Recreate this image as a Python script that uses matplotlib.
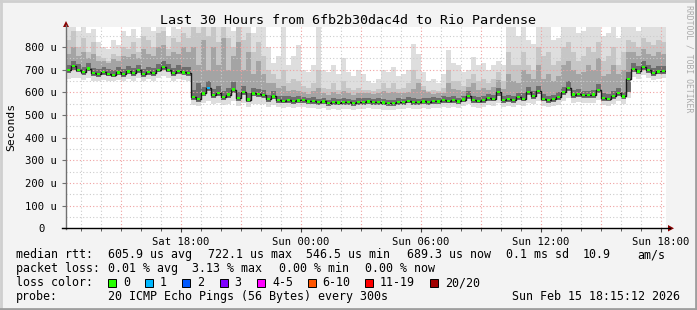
import numpy as np
import matplotlib
matplotlib.use("Agg")
import matplotlib.pyplot as plt
from matplotlib.lines import Line2D
from matplotlib.patches import Rectangle, Polygon
from matplotlib.transforms import ScaledTranslation

plt.rcParams['font.family'] = ['DejaVu Sans Mono']

# one value every 15 minutes, first step starts Sat 12:15 (x = hours since then)
stepHours = 0.25

# median rtt (microseconds)
medianRtt = [697, 715, 700, 690, 705, 685, 680, 690, 682, 678,
             688, 680, 692, 685, 698, 680, 690, 685, 700, 712,
             700, 685, 695, 688, 685, 580, 570, 595, 618, 588,
             596, 580, 590, 612, 575, 600, 568, 595, 592, 588,
             570, 582, 566, 563, 565, 562, 564, 565, 560, 562,
             556, 560, 552, 558, 555, 558, 556, 553, 558, 558,
             560, 556, 558, 555, 552, 552, 557, 556, 563, 558,
             556, 560, 558, 562, 560, 565, 563, 566, 560, 568,
             585, 566, 563, 567, 575, 572, 600, 567, 570, 566,
             580, 572, 600, 585, 605, 572, 566, 570, 578, 600,
             620, 590, 594, 588, 587, 590, 610, 575, 572, 585,
             598, 582, 660, 702, 692, 712, 698, 685, 692, 695]

# lost pings out of 20 per step
lossCount = [0, 0, 0, 0, 0, 0, 0, 0, 0, 0,
             0, 0, 0, 0, 0, 0, 0, 0, 0, 0,
             0, 0, 0, 0, 0, 0, 0, 0, 1, 0,
             0, 0, 0, 0, 0, 0, 0, 0, 0, 0,
             0, 0, 0, 0, 0, 0, 0, 0, 0, 0,
             0, 0, 0, 0, 0, 0, 0, 0, 0, 0,
             0, 0, 0, 0, 0, 0, 0, 0, 0, 0,
             0, 0, 0, 0, 0, 0, 0, 0, 0, 0,
             0, 0, 0, 0, 0, 0, 0, 0, 0, 0,
             0, 0, 0, 0, 0, 0, 0, 0, 0, 0,
             0, 0, 0, 0, 0, 0, 0, 0, 0, 0,
             0, 0, 0, 0, 0, 0, 0, 0, 0, 0]

# smoke: slowest ping
pingMax = [887, 887, 870, 887, 860, 880, 820, 800, 790, 830,
           810, 870, 850, 880, 840, 887, 887, 870, 887, 887,
           850, 887, 880, 887, 887, 887, 887, 887, 887, 887,
           887, 887, 887, 870, 887, 887, 887, 860, 887, 887,
           800, 730, 760, 887, 720, 760, 810, 700, 690, 720,
           887, 700, 690, 720, 680, 750, 690, 670, 700, 680,
           650, 640, 660, 700, 690, 710, 670, 680, 700, 815,
           770, 690, 650, 660, 640, 680, 785, 730, 720, 690,
           700, 755, 720, 730, 700, 720, 740, 720, 887, 887,
           850, 887, 830, 815, 887, 887, 887, 830, 840, 887,
           887, 887, 860, 870, 887, 887, 887, 850, 860, 887,
           840, 887, 887, 887, 870, 887, 887, 887, 887, 887]

# smoke: upper edge of the light-middle grey
pingHigh = [830, 870, 800, 840, 780, 820, 760, 750, 740, 770,
            760, 800, 790, 820, 780, 850, 830, 800, 860, 870,
            790, 840, 820, 860, 840, 887, 860, 887, 850, 887,
            820, 887, 840, 800, 887, 830, 860, 780, 820, 760,
            700, 680, 660, 700, 640, 660, 650, 630, 620, 640,
            700, 620, 615, 640, 610, 650, 620, 610, 620, 610,
            610, 605, 615, 640, 620, 640, 615, 620, 640, 700,
            660, 630, 605, 610, 605, 620, 700, 650, 650, 630,
            660, 680, 650, 660, 640, 660, 690, 650, 780, 720,
            720, 780, 720, 700, 800, 760, 780, 720, 740, 800,
            820, 780, 740, 760, 800, 780, 820, 740, 760, 800,
            720, 780, 830, 820, 800, 840, 820, 810, 830, 820]

# smoke: upper edge of the darker grey
pingMid = [770, 800, 760, 780, 750, 770, 740, 740, 730, 745,
           740, 760, 755, 770, 750, 790, 770, 760, 800, 810,
           760, 780, 770, 800, 780, 800, 720, 830, 700, 800,
           720, 840, 700, 760, 820, 700, 780, 680, 740, 680,
           640, 640, 620, 630, 605, 610, 605, 600, 592, 605,
           620, 598, 590, 600, 592, 605, 596, 590, 598, 596,
           598, 594, 598, 605, 598, 600, 598, 595, 600, 615,
           640, 610, 600, 592, 598, 595, 640, 615, 612, 605,
           625, 640, 612, 618, 610, 625, 655, 615, 680, 650,
           640, 700, 680, 660, 720, 660, 680, 650, 670, 720,
           740, 700, 680, 690, 720, 700, 750, 670, 680, 720,
           680, 700, 780, 780, 760, 790, 770, 760, 780, 770]

# smoke: dark core around the median
pingDarkTop = [720, 738, 725, 712, 728, 708, 702, 714, 705, 700,
               712, 703, 718, 708, 722, 704, 714, 708, 725, 738,
               724, 708, 720, 712, 712, 610, 640, 625, 650, 615,
               630, 605, 620, 645, 600, 630, 595, 620, 615, 610,
               590, 605, 585, 582, 584, 580, 582, 580, 575, 578,
               572, 576, 568, 574, 570, 574, 571, 568, 574, 573,
               576, 571, 574, 570, 567, 568, 573, 572, 580, 574,
               571, 576, 574, 578, 576, 582, 580, 582, 576, 585,
               605, 582, 579, 584, 592, 588, 618, 584, 588, 582,
               598, 595, 625, 608, 628, 592, 585, 590, 600, 625,
               648, 612, 615, 608, 606, 610, 635, 596, 592, 606,
               620, 602, 690, 728, 716, 738, 722, 708, 716, 718]

pingDarkBottom = [684, 700, 688, 678, 692, 672, 668, 678, 670, 666,
                  676, 668, 680, 673, 686, 668, 678, 673, 688, 700,
                  688, 673, 683, 676, 672, 565, 558, 582, 604, 575,
                  583, 567, 577, 598, 562, 587, 556, 582, 579, 575,
                  558, 570, 554, 551, 553, 550, 552, 553, 548, 550,
                  544, 548, 540, 546, 543, 546, 544, 541, 546, 546,
                  548, 544, 546, 543, 540, 540, 545, 544, 551, 546,
                  544, 548, 546, 550, 548, 553, 551, 554, 548, 556,
                  572, 554, 551, 555, 562, 560, 586, 555, 558, 554,
                  567, 560, 587, 572, 592, 560, 554, 558, 566, 587,
                  606, 577, 581, 575, 574, 577, 596, 562, 560, 572,
                  585, 570, 600, 688, 680, 698, 685, 672, 680, 682]

# smoke: fastest ping
pingMin = [660, 665, 662, 655, 665, 652, 650, 655, 650, 648,
           655, 650, 658, 652, 662, 650, 658, 652, 665, 670,
           662, 652, 660, 655, 652, 545, 540, 552, 560, 550,
           555, 545, 550, 560, 540, 555, 535, 550, 550, 548,
           535, 542, 535, 532, 535, 532, 535, 535, 530, 532,
           525, 530, 520, 528, 524, 528, 525, 522, 527, 528,
           530, 525, 528, 524, 520, 520, 526, 525, 532, 528,
           525, 530, 528, 532, 530, 535, 533, 536, 530, 538,
           548, 536, 533, 537, 542, 540, 555, 537, 540, 536,
           545, 540, 555, 548, 560, 540, 535, 538, 545, 560,
           575, 555, 558, 552, 552, 555, 568, 542, 540, 550,
           560, 548, 575, 668, 660, 675, 665, 655, 660, 662]

yTicks = [0, 100, 200, 300, 400, 500, 600, 700, 800]
yTickLabels = ['0', '100 u', '200 u', '300 u', '400 u', '500 u', '600 u', '700 u', '800 u']
xTicks = [5.75, 11.75, 17.75, 23.75, 29.75]
xTickLabels = ['Sat 18:00', 'Sun 00:00', 'Sun 06:00', 'Sun 12:00', 'Sun 18:00']

lossNames = ['0', '1', '2', '3', '4-5', '6-10', '11-19', '20/20']
lossUpper = [0, 1, 2, 3, 5, 10, 19, 20]
lossColors = ['#26ff00', '#00b8ff', '#0059ff', '#7e00ff', '#ff00ff', '#ff5500', '#ff0000', '#a10000']

W, H = 697, 310

def px(x, y):
   # pixel position (origin top left) -> figure fraction
   return x / W, 1 - y / H

fig = plt.figure(figsize=(W / 100, H / 100), dpi=100, facecolor='#f3f3f3')

plotLeft, plotRight, plotTop, plotBottom = 66, 666, 27.3, 228.3
ax = fig.add_axes([plotLeft / W, 1 - plotBottom / H, (plotRight - plotLeft) / W, (plotBottom - plotTop) / H])
ax.set_facecolor('white')

t = np.arange(len(medianRtt)) * stepHours
tEdge = np.append(t, t[-1] + stepHours)

def edgeVals(v):
   return np.append(v, v[-1])

# smoke layers, lighter outside, darker towards the median
ax.fill_between(tEdge, edgeVals(pingMin), edgeVals(pingMax), step='post', color='#dedede', lw=0, zorder=1)
ax.fill_between(tEdge, edgeVals(pingDarkBottom), edgeVals(pingHigh), step='post', color='#c6c6c6', lw=0, zorder=1.1)
ax.fill_between(tEdge, edgeVals(pingDarkBottom), edgeVals(pingMid), step='post', color='#a4a4a4', lw=0, zorder=1.2)
ax.fill_between(tEdge, edgeVals(pingDarkBottom), edgeVals(pingDarkTop), step='post', color='#6e6e6e', lw=0, zorder=1.3)

# grid on top of the smoke
for h in np.arange(0.75, 30, 1.0):
   isMajor = abs(((h - 2.75) / 3) - round((h - 2.75) / 3)) < 1e-6
   ax.axvline(h, color='#f0a0a0' if isMajor else '#cccccc', lw=0.8, ls=(0, (1, 2)), zorder=2)
for v in range(50, 900, 50):
   ax.axhline(v, color='#f0a0a0' if v % 100 == 0 else '#cccccc', lw=0.8, ls=(0, (1, 2)), zorder=2)

# median line
ax.step(tEdge, edgeVals(medianRtt), where='post', color='#1a1a1a', lw=1.0, zorder=3)
medColors = []
for l in lossCount:
   for k, up in enumerate(lossUpper):
      if l <= up:
         medColors.append(lossColors[k])
         break
ax.bar(t + 0.03, 10, bottom=np.array(medianRtt) - 5, width=stepHours - 0.08, align='edge',
       color=medColors, lw=0, zorder=4)

ax.set_xlim(0, 30)
ax.set_ylim(0, 887)
for s in ax.spines.values():
   s.set_visible(False)

ax.set_yticks(yTicks)
ax.set_yticklabels(yTickLabels, fontsize=7.6)
ax.set_xticks(xTicks)
ax.set_xticklabels(xTickLabels, fontsize=7.6)
ax.set_xticks(np.arange(0.75, 30, 1.0), minor=True)
ax.tick_params(axis='y', length=3, width=0.8, pad=3.5, color='#707070')
ax.tick_params(axis='x', length=3, width=0.8, pad=3.5, color='#404040')
ax.tick_params(axis='x', which='minor', length=2, width=0.6, color='#404040')
# the "0" label sits further left, like rrdtool prints it
zeroLab = ax.get_yticklabels()[0]
zeroLab.set_transform(zeroLab.get_transform() + ScaledTranslation(-12.5 / 100, 0, fig.dpi_scale_trans))

# axis lines with arrows
fig.add_artist(Line2D([px(66, 0)[0]] * 2, [px(0, 229)[1], px(0, 25)[1]], color='#707070', lw=1))
fig.add_artist(Line2D([px(62, 0)[0], px(670, 0)[0]], [px(0, 228.3)[1]] * 2, color='black', lw=1))
fig.add_artist(Polygon([px(63, 27), px(69, 27), px(66, 21)], closed=True, color='#8b0000', lw=0))
fig.add_artist(Polygon([px(668, 225), px(668, 231.5), px(674, 228.3)], closed=True, color='#8b0000', lw=0))

# frame
fig.add_artist(Line2D([0, 1], [1 - 1 / H, 1 - 1 / H], color='#cfcfcf', lw=2))
fig.add_artist(Line2D([1 / W, 1 / W], [0, 1], color='#cfcfcf', lw=2))
fig.add_artist(Line2D([0, 1], [1 / H, 1 / H], color='#9e9e9e', lw=2))
fig.add_artist(Line2D([1 - 1 / W, 1 - 1 / W], [0, 1], color='#9e9e9e', lw=2))

# titles
fig.text(*px(348, 24), 'Last 30 Hours from 6fb2b30dac4d to Rio Pardense', fontsize=9.6, ha='center', va='baseline')
fig.text(*px(11, 127), 'Seconds', fontsize=8.2, rotation=90, ha='center', va='center')
fig.text(*px(688.5, 59), 'RRDTOOL / TOBI OETIKER', fontsize=5.9, rotation=270, ha='center', va='center', color='#ababab')

# legend rows
legFont = 8.4
rows = [
   [(16, 'median rtt:'), (107.5, '605.9 us avg'), (207.5, '722.1 us max'), (306.5, '546.5 us min'),
    (407, '689.3 us now'), (506.5, '0.1 ms sd'), (583, '10.9'), (637, 'am/s')],
   [(16, 'packet loss:'), (107.5, '0.01 % avg'), (192, '3.13 % max'), (279, '0.00 % min'), (365, '0.00 % now')],
]
rowBase = [258, 272]
for base, row in zip(rowBase, rows):
   for x, s in row:
      fig.text(*px(x, base), s, fontsize=legFont, ha='left', va='baseline')

fig.text(*px(16, 286), 'loss color:', fontsize=legFont, ha='left', va='baseline')
boxX = [108, 145, 182, 219.5, 257, 307.5, 365, 430]
for bx, name, col in zip(boxX, lossNames, lossColors):
   x0, y0 = px(bx, 286.5)
   fig.add_artist(Rectangle((x0, y0), 8 / W, 8 / H, facecolor=col, edgecolor='black', lw=0.7))
   fig.text(*px(bx + 15, 286), name, fontsize=legFont, ha='left', va='baseline')

fig.text(*px(16, 300), 'probe:', fontsize=legFont, ha='left', va='baseline')
fig.text(*px(107.5, 300), '20 ICMP Echo Pings (56 Bytes) every 300s', fontsize=legFont, ha='left', va='baseline')
fig.text(*px(680, 300), 'Sun Feb 15 18:15:12 2026', fontsize=legFont, ha='right', va='baseline')

fig.savefig('out.png', dpi=100, facecolor=fig.get_facecolor())
